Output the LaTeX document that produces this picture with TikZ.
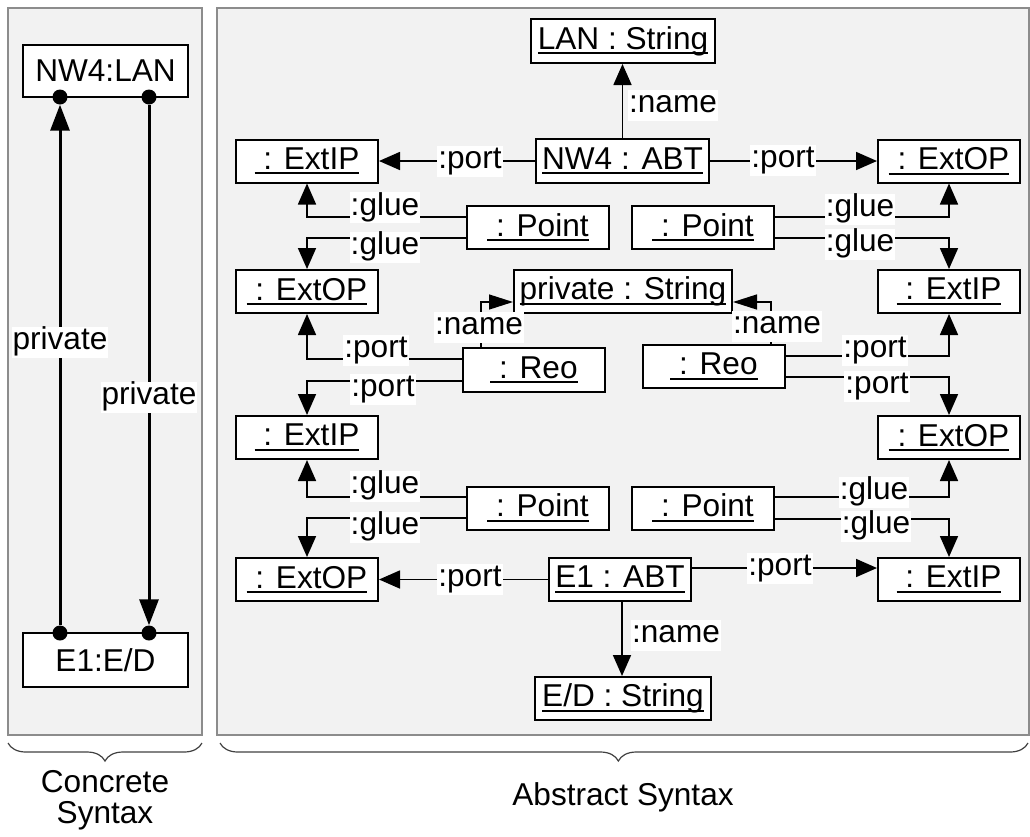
\documentclass[tikz,border=0pt]{standalone}
\usepackage{fontspec}
\setmainfont{Liberation Sans}
\usetikzlibrary{arrows.meta,decorations.pathreplacing,calc}
\definecolor{panelfill}{HTML}{F2F2F2}
\definecolor{panelline}{HTML}{8C8C8C}
\definecolor{bracecol}{HTML}{404040}
\newcommand\myul[1]{\setbox0=\hbox{#1}\rlap{\rule[-5pt]{\wd0}{2pt}}\box0}
\begin{document}
\begin{tikzpicture}[x=1pt,y=-1pt,
  every node/.style={font=\fontsize{31.6}{36}\selectfont},
  panel/.style={draw=panelline,fill=panelfill,line width=2pt},
  obj/.style={draw,line width=2pt,fill=white,inner sep=0pt,minimum width=142pt,minimum height=43pt},
  cbox/.style={draw,line width=2pt,fill=white,inner sep=0pt,minimum width=165pt},
  conn/.style={line width=1.7pt,-{Triangle[length=21pt,width=18pt]}},
  nconn/.style={line width=1.4pt,-{Triangle[length=24pt,width=15pt]}},
  bigconn/.style={line width=3pt,-{Triangle[length=26pt,width=19pt]}},
  dotn/.style={circle,fill=black,inner sep=0pt,minimum size=15pt},
  lbl/.style={fill=white,inner sep=1pt,text height=22pt,text depth=7pt},
  bracestyle/.style={decorate,draw=bracecol,line width=1.2pt},
]
\useasboundingbox (0,0) rectangle (1030,836);
% panels
\draw[panel] (8,8) rectangle (202,735);
\draw[panel] (217,8) rectangle (1029,735);

% concrete syntax
\node[cbox,minimum height=52pt] (nwc) at (105.5,71) {NW4:LAN};
\node[cbox,minimum height=54pt] (e1c) at (105.5,660) {E1:E/D};
\node[dotn] (d1) at (60,97) {};
\node[dotn] (d2) at (149,97) {};
\node[dotn] (d3) at (60,633) {};
\node[dotn] (d4) at (149,633) {};
\draw[bigconn] (d3) -- (d1);
\draw[bigconn] (d2) -- (d4);
\node[lbl] (pl1) at (60,342) {private};
\node[lbl] (pl2) at (149,397) {private};

% abstract syntax objects
\node[obj,minimum width=184pt,minimum height=44pt] (lan) at (623,41) {\myul{LAN : String}};
\node[obj,minimum width=173pt,minimum height=44pt] (nwabt) at (622.5,161) {\myul{NW4 : ABT}};
\node[obj] (eipA) at (307,161) {\myul{\ : ExtIP}};
\node[obj] (eopR1) at (949,161) {\myul{\ : ExtOP}};
\node[obj] (pTL) at (538,227.5) {\myul{\ : Point}};
\node[obj] (pTR) at (703,227.5) {\myul{\ : Point}};
\node[obj] (eopA) at (307,291.5) {\myul{\ : ExtOP}};
\node[obj,minimum width=218pt] (priv) at (623,291.5) {\myul{private : String}};
\node[obj] (eipR2) at (949,291.5) {\myul{\ : ExtIP}};
\node[obj,minimum height=44pt] (reoL) at (534,370) {\myul{\ : Reo}};
\node[obj] (reoR) at (714,366.5) {\myul{\ : Reo}};
\node[obj] (eipB) at (307,437.5) {\myul{\ : ExtIP}};
\node[obj] (eopR3) at (949,437.5) {\myul{\ : ExtOP}};
\node[obj] (pBL) at (538,508) {\myul{\ : Point}};
\node[obj] (pBR) at (703,508) {\myul{\ : Point}};
\node[obj] (eopC) at (307,579.5) {\myul{\ : ExtOP}};
\node[obj] (e1abt) at (620,579.5) {\myul{E1 : ABT}};
\node[obj] (eipD) at (949,579.5) {\myul{\ : ExtIP}};
\node[obj,minimum width=176pt] (ed) at (623,698.5) {\myul{E/D : String}};

% connectors
\draw[conn] (nwabt.north) -- (nwabt.north |- lan.south);
\draw[conn] (nwabt.west) -- (eipA.east);
\draw[conn] (nwabt.east) -- (eopR1.west);
\draw[conn] ([yshift=10.5pt]pTL.west) -| (eipA.south);
\draw[conn] ([yshift=-10.5pt]pTL.west) -| (eopA.north);
\draw[conn] ([yshift=10.5pt]pTR.east) -| (eopR1.south);
\draw[conn] ([yshift=-10.5pt]pTR.east) -| (eipR2.north);
\draw[conn] ([yshift=11pt]reoL.west) -| (eopA.south);
\draw[conn] ([yshift=-11pt]reoL.west) -| (eipB.north);
\draw[nconn] ([xshift=19pt]reoL.north west) |- ([yshift=-10.5pt]priv.west);
\draw[nconn] ([xshift=-15pt]reoR.north east) |- ([yshift=-10.5pt]priv.east);
\draw[conn] ([yshift=10.5pt]reoR.east) -| (eipR2.south);
\draw[conn] ([yshift=-10.5pt]reoR.east) -| (eopR3.north);
\draw[conn] ([yshift=11pt]pBL.west) -| (eipB.south);
\draw[conn] ([yshift=-10pt]pBL.west) -| (eopC.north);
\draw[conn] ([yshift=11pt]pBR.east) -| (eopR3.south);
\draw[conn] ([yshift=-11pt]pBR.east) -| (eipD.north);
\draw[conn] (e1abt.west) -- (eopC.east);
\draw[conn] ([yshift=11.5pt]e1abt.east) -- ([yshift=11.5pt]eipD.west);
\draw[conn] ([xshift=2pt]e1abt.south) -- ([xshift=2pt]e1abt.south |- ed.north);

% labels
\node[lbl] (l1) at (673,105) {:name};
\node[lbl] (l2) at (470,161) {:port};
\node[lbl] (l3) at (783,160) {:port};
\node[lbl] (l4) at (385,207.5) {:glue};
\node[lbl] (l5) at (385,247) {:glue};
\node[lbl] (l6) at (860,209) {:glue};
\node[lbl] (l7) at (860,244) {:glue};
\node[lbl] (l8) at (479,327) {:name};
\node[lbl] (l9) at (777,326) {:name};
\node[lbl] (l10) at (376,350) {:port};
\node[lbl] (l11) at (383,389) {:port};
\node[lbl] (l12) at (875,350) {:port};
\node[lbl] (l13) at (877,386) {:port};
\node[lbl] (l14) at (385,486) {:glue};
\node[lbl] (l15) at (385,527) {:glue};
\node[lbl] (l16) at (874,492) {:glue};
\node[lbl] (l17) at (876,526) {:glue};
\node[lbl] (l18) at (470,579) {:port};
\node[lbl] (l19) at (780,568) {:port};
\node[lbl] (l20) at (676,635) {:name};

% braces
\draw[bracestyle,decoration={brace,amplitude=18pt}] (202,743) -- (8,743);
\draw[bracestyle,decoration={brace,amplitude=18pt,aspect=0.507}] (1028,743) -- (220,743);
\node[align=center,font=\fontsize{31.6}{31}\selectfont] (cs) at (105,800) {Concrete\\Syntax};
\node (as) at (623,797) {Abstract Syntax};
\end{tikzpicture}
\end{document}
